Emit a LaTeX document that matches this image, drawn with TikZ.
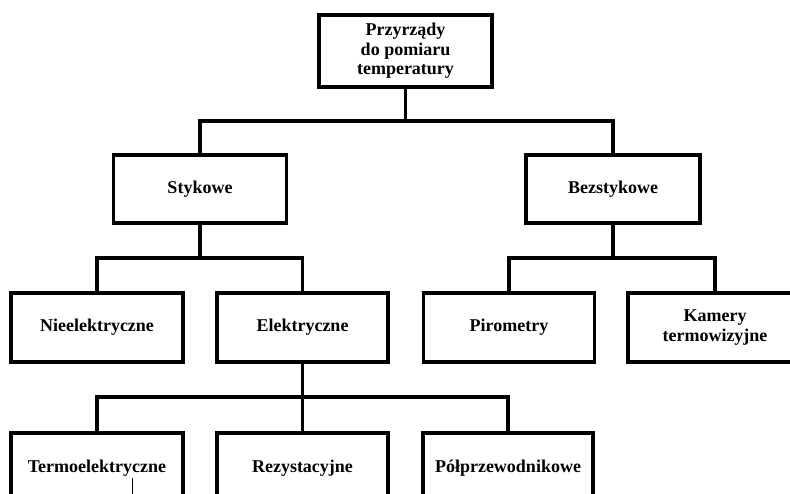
\documentclass[tikz,border=0pt]{standalone}
\usepackage{fontspec}
\setmainfont{Liberation Serif}
\begin{document}
\begin{tikzpicture}[x=1pt,y=-1pt,
  box/.style={draw=black,line width=3.2pt,rectangle,inner sep=0pt,align=center,
    font=\fontsize{18}{19.5}\selectfont\bfseries,fill=white},
  conn/.style={draw=black,line width=3.2pt}]
\useasboundingbox (0,0) rectangle (790,494);
\clip (0,0) rectangle (790,494);
% connectors (drawn first, boxes on top)
\coordinate (j1) at (405.5,121);
\coordinate (j2) at (200,258);
\coordinate (j3) at (613,258);
\coordinate (j4) at (302.5,397);
% nodes
\node[box,minimum width=173pt,minimum height=72pt] (root) at (405.5,51) {Przyrządy\\do pomiaru\\temperatury};
\node[box,minimum width=173pt,minimum height=68pt] (sty) at (200,189) {Stykowe};
\node[box,minimum width=174pt,minimum height=68pt] (bez) at (613,189) {Bezstykowe};
\node[box,minimum width=172pt,minimum height=69pt] (nie) at (97,327.5) {Nieelektryczne};
\node[box,minimum width=171pt,minimum height=69pt] (ele) at (302.5,327.5) {Elektryczne};
\node[box,minimum width=171pt,minimum height=69pt] (pir) at (509,327.5) {Pirometry};
\node[box,minimum width=174pt,minimum height=69pt] (kam) at (715,327.5) {Kamery\\termowizyjne};
\node[box,minimum width=172pt,minimum height=70pt] (ter) at (97,468) {Termoelektryczne};
\node[box,minimum width=171pt,minimum height=70pt] (rez) at (302.5,468) {Rezystacyjne};
\node[box,minimum width=170pt,minimum height=70pt] (pol) at (508,468) {Półprzewodnikowe};
\draw[conn] (root.south) -- (j1);
\draw[conn] (sty.north) |- (j1) -| (bez.north);
\draw[conn] (sty.south) -- (j2);
\draw[conn] (nie.north) |- (j2) -| (ele.north);
\draw[conn] (bez.south) -- (j3);
\draw[conn] (pir.north) |- (j3) -| (kam.north);
\draw[conn] (ele.south) -- (j4);
\draw[conn] (ter.north) |- (j4) -| (pol.north);
\draw[conn] (j4) -- (rez.north);
% small mark inside Termoelektryczne
\coordinate (m1) at (132,478);
\coordinate (m2) at (132,494);
\draw[line width=0.8pt] (m1) -- (m2);
\end{tikzpicture}
\end{document}
